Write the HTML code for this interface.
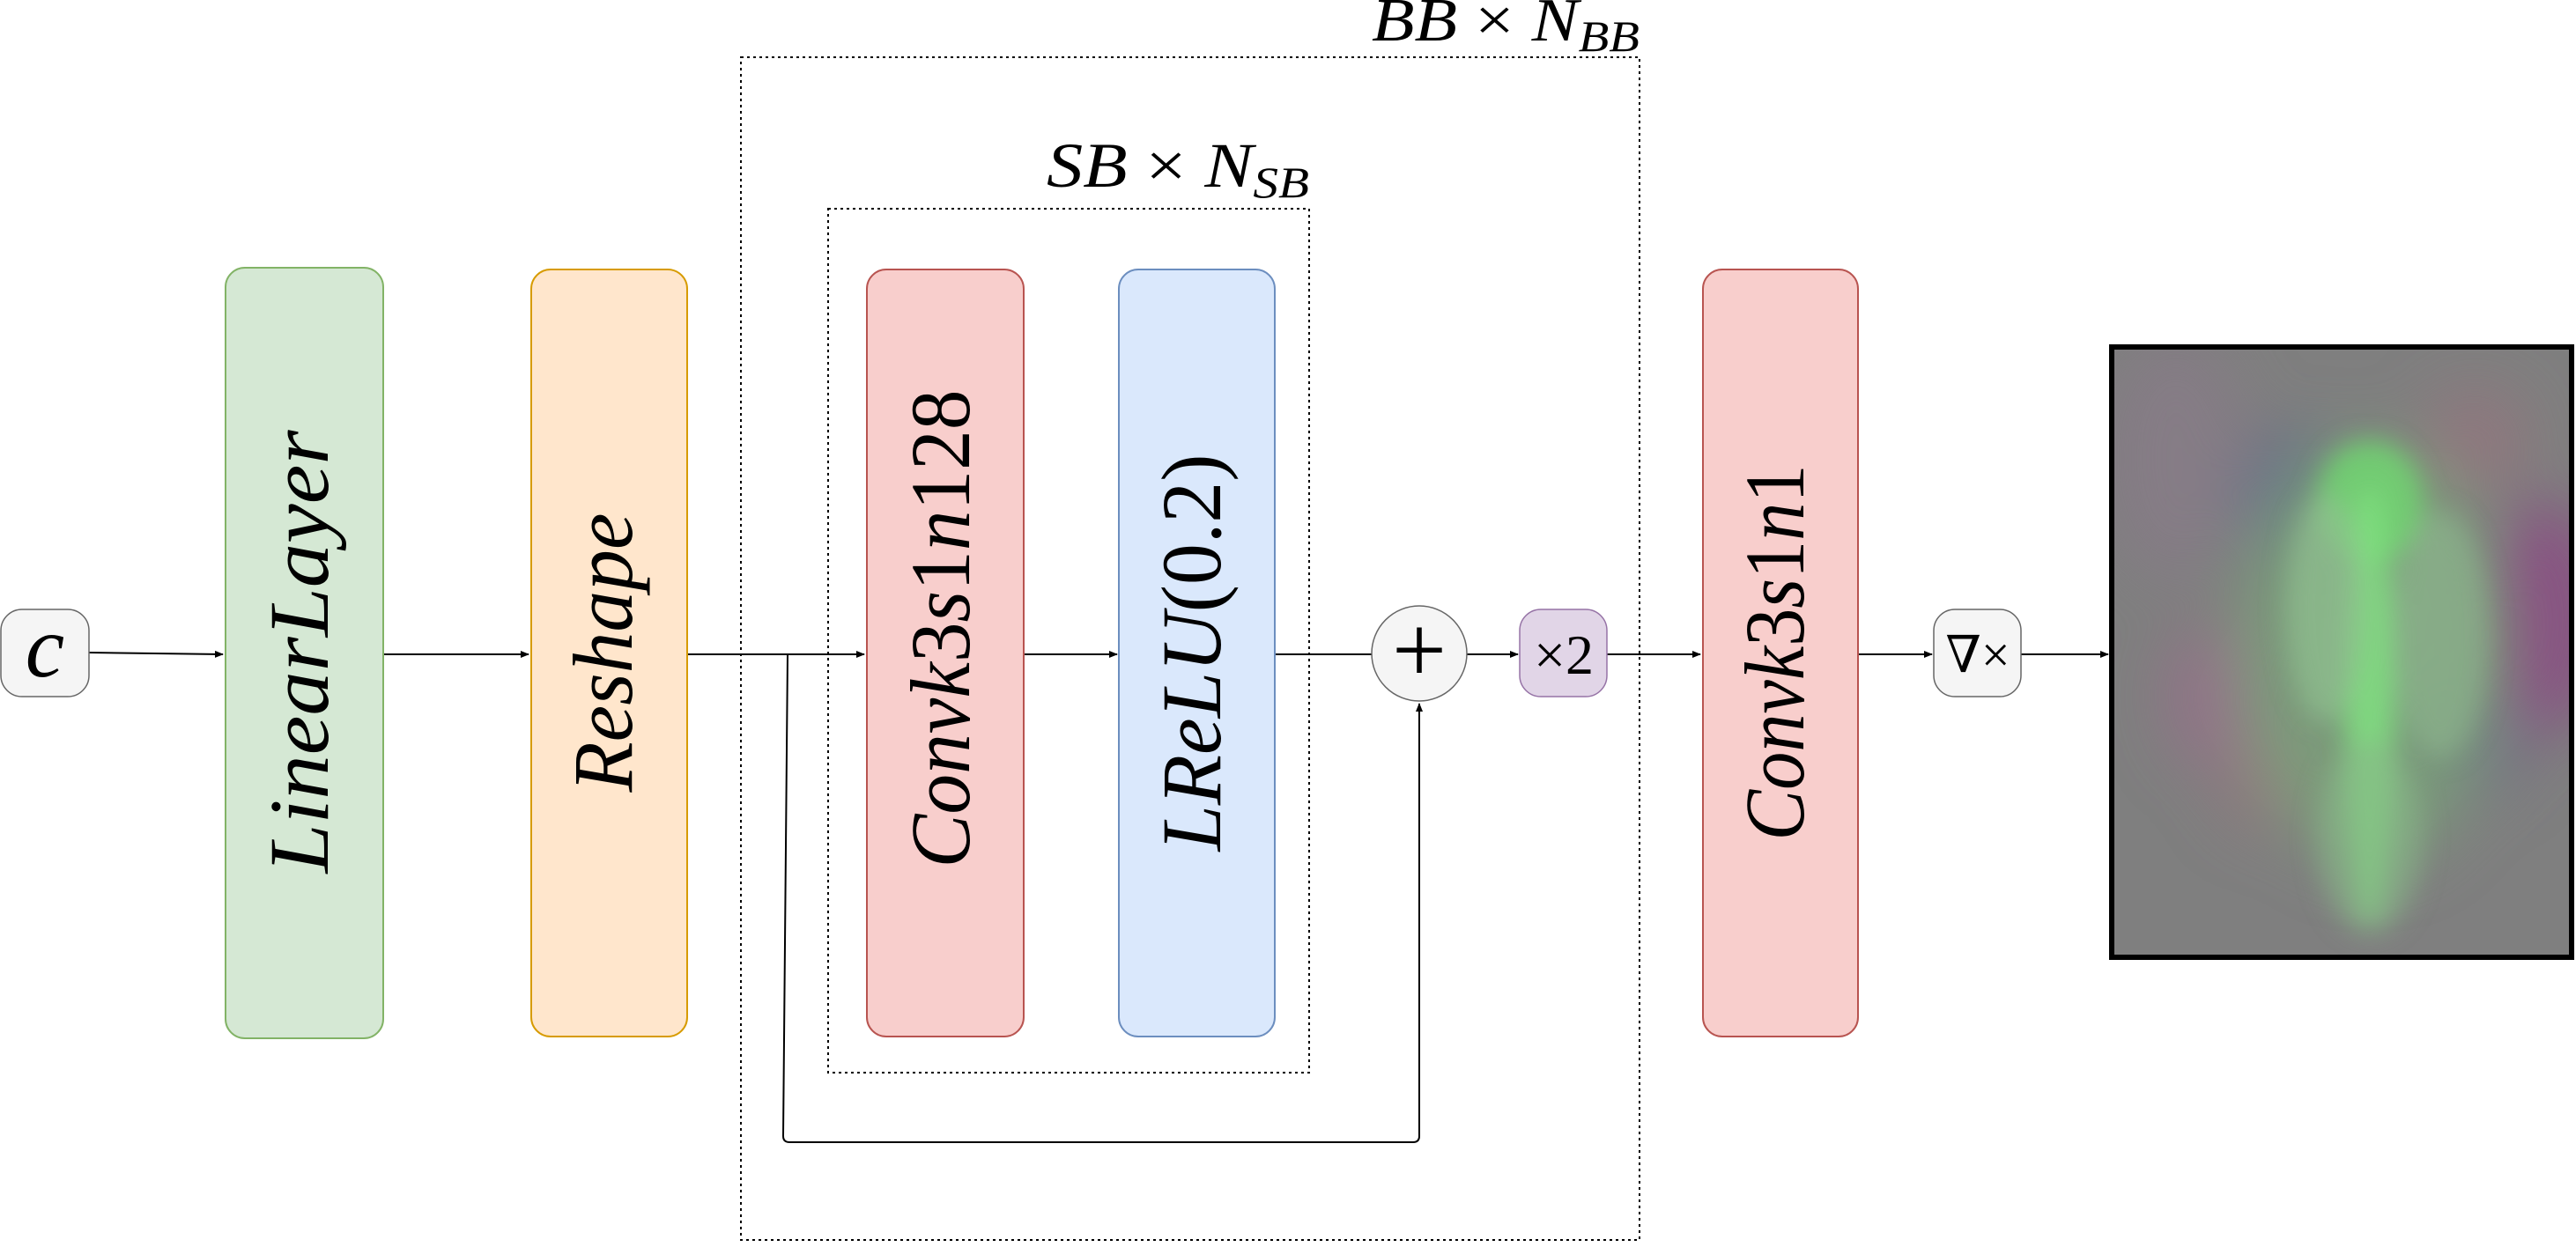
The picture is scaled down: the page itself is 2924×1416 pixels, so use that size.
<!DOCTYPE html>
<html><head><meta charset="utf-8"><style>
html,body{margin:0;padding:0;background:#fff;}
svg{display:block;}
text{font-family:"Liberation Serif","DejaVu Serif",serif;fill:#000;}
</style></head><body>
<svg width="2924" height="1416" viewBox="0 0 2924 1416">
<defs>
<marker id="ah" markerWidth="10" markerHeight="10" refX="9" refY="5" orient="auto" markerUnits="userSpaceOnUse"><path d="M0,1 L10,5 L0,9 Z" fill="#000"/></marker>
<filter id="bl" x="-50%" y="-50%" width="200%" height="200%"><feGaussianBlur stdDeviation="35"/></filter>
<filter id="bl2" x="-50%" y="-50%" width="200%" height="200%"><feGaussianBlur stdDeviation="14"/></filter>
<clipPath id="imgclip"><rect x="2397" y="394" width="522" height="693"/></clipPath>
</defs>

<rect x="841" y="65" width="1020" height="1343" fill="none" stroke="#000" stroke-width="2" stroke-dasharray="3,4"/>
<text x="1557" y="46" font-size="70" font-style="italic" textLength="304" lengthAdjust="spacingAndGlyphs">BB <tspan font-style="normal">×</tspan> N<tspan font-size="50" dy="12">BB</tspan></text>
<rect x="940" y="237" width="546" height="981" fill="none" stroke="#000" stroke-width="2" stroke-dasharray="3,4"/>
<text x="1188" y="212" font-size="72" font-style="italic" textLength="298" lengthAdjust="spacingAndGlyphs">SB <tspan font-style="normal">×</tspan> N<tspan font-size="50" dy="12">SB</tspan></text>

<g stroke="#000" stroke-width="2" fill="none">
<line x1="101" y1="741" x2="253" y2="743" marker-end="url(#ah)"/>
<line x1="435" y1="743" x2="600" y2="743" marker-end="url(#ah)"/>
<line x1="780" y1="743" x2="981" y2="743" marker-end="url(#ah)"/>
<line x1="1162" y1="743" x2="1268" y2="743" marker-end="url(#ah)"/>
<line x1="1447" y1="743" x2="1557" y2="743"/>
<line x1="1665" y1="743" x2="1723" y2="743" marker-end="url(#ah)"/>
<line x1="1824" y1="743" x2="1930" y2="743" marker-end="url(#ah)"/>
<line x1="2109" y1="743" x2="2193" y2="743" marker-end="url(#ah)"/>
<line x1="2294" y1="743" x2="2393" y2="743" marker-end="url(#ah)"/>
<path d="M894,743 L889,1290 Q889,1297 896,1297 L1604,1297 Q1611,1297 1611,1290 L1611,799" marker-end="url(#ah)"/>
</g>

<rect x="1" y="692" width="100" height="99" rx="24" fill="#f5f5f5" stroke="#666" stroke-width="1.5"/>
<text x="51" y="768" font-size="100" font-style="italic" text-anchor="middle">c</text>

<rect x="256" y="304" width="179" height="875" rx="22" fill="#d5e8d4" stroke="#82b366" stroke-width="2"/>
<text transform="translate(372,740) rotate(-90)" font-size="96" font-style="italic" text-anchor="middle" textLength="503" lengthAdjust="spacingAndGlyphs">LinearLayer</text>

<rect x="603" y="306" width="177" height="871" rx="22" fill="#ffe6cc" stroke="#d79b00" stroke-width="2"/>
<text transform="translate(717,741) rotate(-90)" font-size="96" font-style="italic" text-anchor="middle" textLength="317" lengthAdjust="spacingAndGlyphs">Reshape</text>

<rect x="984" y="306" width="178" height="871" rx="22" fill="#f8cecc" stroke="#b85450" stroke-width="2"/>
<text transform="translate(1100,714) rotate(-90)" font-size="96" text-anchor="middle" textLength="543" lengthAdjust="spacingAndGlyphs"><tspan font-style="italic">Convk</tspan>3<tspan font-style="italic">s</tspan>1<tspan font-style="italic">n</tspan>128</text>

<rect x="1270" y="306" width="177" height="871" rx="22" fill="#dae8fc" stroke="#6c8ebf" stroke-width="2"/>
<text transform="translate(1385,741) rotate(-90)" font-size="96" text-anchor="middle" textLength="451" lengthAdjust="spacingAndGlyphs"><tspan font-style="italic">LReLU</tspan>(0.2)</text>

<circle cx="1611" cy="742" r="54" fill="#f5f5f5" stroke="#666" stroke-width="1.5"/>
<text x="1611" y="775" font-size="110" text-anchor="middle">+</text>

<rect x="1725" y="692" width="99" height="99" rx="24" fill="#e1d5e7" stroke="#9673a6" stroke-width="1.5"/>
<text x="1775" y="765" font-size="64" text-anchor="middle">×2</text>

<rect x="1933" y="306" width="176" height="871" rx="22" fill="#f8cecc" stroke="#b85450" stroke-width="2"/>
<text transform="translate(2047,741) rotate(-90)" font-size="96" text-anchor="middle" textLength="427" lengthAdjust="spacingAndGlyphs"><tspan font-style="italic">Convk</tspan>3<tspan font-style="italic">s</tspan>1<tspan font-style="italic">n</tspan>1</text>

<rect x="2195" y="692" width="99" height="99" rx="24" fill="#f5f5f5" stroke="#666" stroke-width="1.5"/>
<text x="2245" y="763" font-size="58" text-anchor="middle">∇×</text>

<g clip-path="url(#imgclip)">
<rect x="2397" y="394" width="522" height="693" fill="#7f7f7f"/>
<g filter="url(#bl)">
<ellipse cx="2470" cy="520" rx="80" ry="140" fill="#8a7a8a" opacity="0.6"/>
<ellipse cx="2890" cy="700" rx="70" ry="130" fill="#8a4a82" opacity="0.85"/>
<ellipse cx="2600" cy="570" rx="60" ry="80" fill="#5a6a8a" opacity="0.7"/>
<ellipse cx="2800" cy="840" rx="70" ry="60" fill="#6a5a8a" opacity="0.6"/>
<ellipse cx="2580" cy="880" rx="60" ry="60" fill="#a07080" opacity="0.6"/>
<ellipse cx="2510" cy="790" rx="50" ry="80" fill="#a06a90" opacity="0.6"/>
<ellipse cx="2810" cy="500" rx="60" ry="60" fill="#a07080" opacity="0.5"/>
<ellipse cx="2690" cy="740" rx="150" ry="240" fill="#7aa07a" opacity="0.85"/>
</g>
<g filter="url(#bl2)">
<ellipse cx="2690" cy="570" rx="60" ry="70" fill="#70d870" opacity="0.8"/>
<ellipse cx="2690" cy="800" rx="28" ry="250" fill="#80e080" opacity="0.85"/>
<ellipse cx="2640" cy="690" rx="45" ry="130" fill="#90c090" opacity="0.7"/>
<ellipse cx="2770" cy="720" rx="55" ry="140" fill="#90b890" opacity="0.6"/>
<ellipse cx="2690" cy="950" rx="60" ry="110" fill="#88b888" opacity="0.6"/>
</g>
</g>
<rect x="2397" y="394" width="522" height="693" fill="none" stroke="#000" stroke-width="6"/>
</svg>
</body></html>
